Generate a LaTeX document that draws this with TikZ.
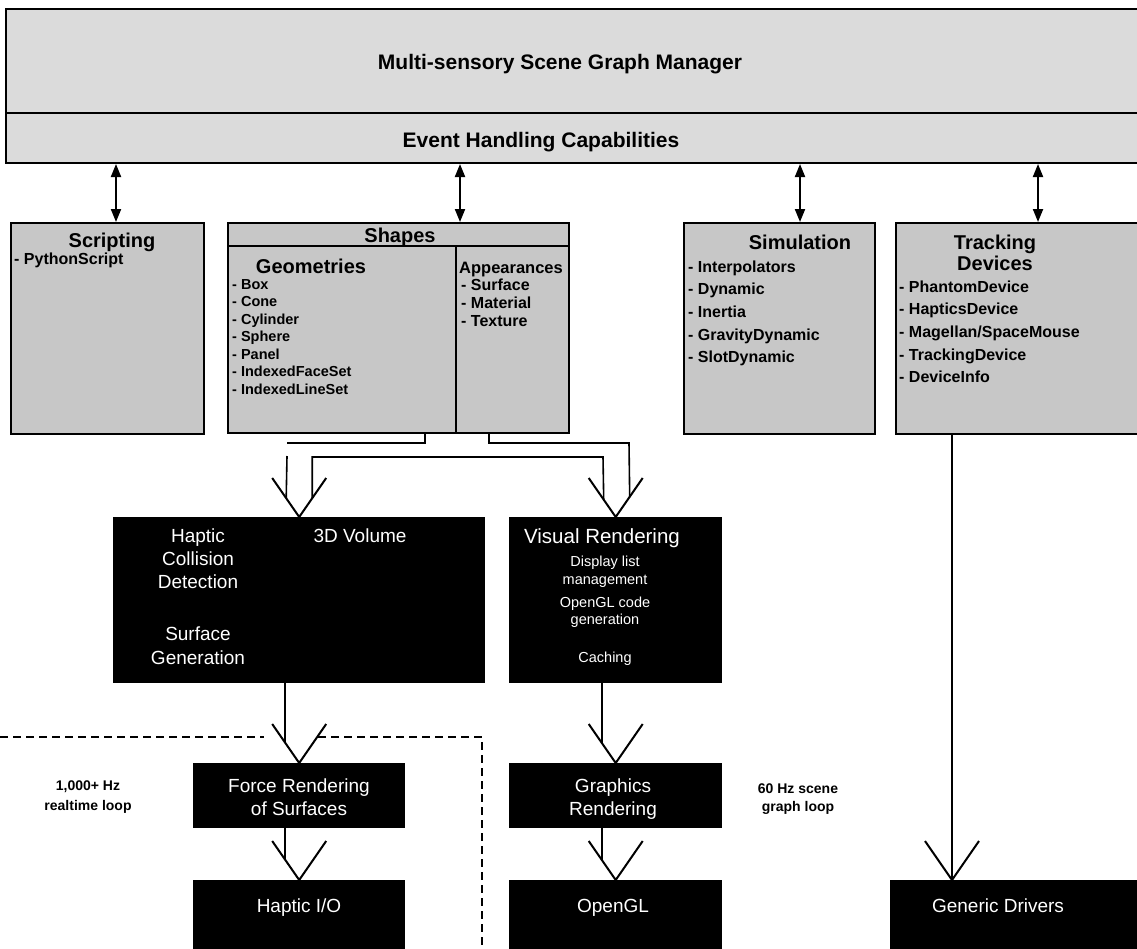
\documentclass[tikz,border=0pt]{standalone}
\usepackage{fontspec}
\setmainfont{Liberation Sans}
\usetikzlibrary{arrows.meta}
\usetikzlibrary{positioning}
\usetikzlibrary{calc}

\tikzset{
  mgrbox/.style={draw, line width=2pt, fill=black!14, inner sep=0pt, anchor=north west},
  graybox/.style={draw, line width=2pt, fill=black!22, inner sep=0pt, anchor=north west},
  blackbox/.style={fill=black, inner sep=0pt, anchor=north west},
  bigbold/.style={font=\fontsize{21}{22}\selectfont\bfseries, inner sep=0pt, anchor=base},
  boxtitle/.style={font=\fontsize{20}{21}\selectfont\bfseries, inner sep=0pt, anchor=base},
  listitem/.style={font=\fontsize{16}{17}\selectfont\bfseries, inner sep=0pt, anchor=base west},
  smallitem/.style={font=\fontsize{14.5}{15}\selectfont\bfseries, inner sep=0pt, anchor=base west},
  whitetext/.style={text=white, font=\fontsize{19}{20}\selectfont, inner sep=0pt, anchor=base},
  whitesmall/.style={text=white, font=\fontsize{14.5}{16}\selectfont, inner sep=0pt, anchor=base},
  sidenote/.style={font=\fontsize{14}{15}\selectfont\bfseries, inner sep=0pt, anchor=base},
  link/.style={line width=2pt, {Triangle[length=13pt,width=10pt]}-{Triangle[length=13pt,width=10pt]}},
  feed/.style={line width=1.6pt},
  loopline/.style={line width=1.4pt, dash pattern=on 8pt off 5pt},
}
% open V head with its tip on the given point
\newcommand{\veehead}[1]{\draw[feed, line width=2pt] ($(#1)+(-27,-39)$) -- (#1) -- ($(#1)+(27,-39)$);}

\begin{document}
\begin{tikzpicture}[x=1pt, y=-1pt]
  \useasboundingbox (0,0) rectangle (1137,948);
  \clip (0,0) rectangle (1137,948);

  % manager bar
  \node[mgrbox, minimum width=1150pt, minimum height=154pt] (manager) at (5,8) {};
  \draw[line width=2pt] (manager.west |- 0,113) -- (manager.east |- 0,113);
  \node[bigbold] (mgrlabel) at (560,69) {Multi-sensory Scene Graph Manager};
  \node[bigbold] (evlabel) at (541,147) {Event Handling Capabilities};

  % node groups
  \node[graybox, minimum width=193pt, minimum height=211pt] (scripting) at (10,222) {};
  \node[graybox, minimum width=341pt, minimum height=210pt] (shapes) at (227,222) {};
  \node[graybox, minimum width=191pt, minimum height=211pt] (simul) at (683,222) {};
  \node[graybox, minimum width=260pt, minimum height=211pt] (tracking) at (895,222) {};
  \draw[line width=2pt] (shapes.west |- 0,246) -- (shapes.east |- 0,246);
  \draw[line width=2pt] (456,246) -- (shapes.south -| 456,0);

  \foreach \b/\x in {scripting/116, shapes/460, simul/800, tracking/1038}
      \draw[link] (manager.south -| \x,0) -- (\b.north -| \x,0);

  \node[boxtitle] (scrtitle) at (112,247) {Scripting};
  \node[listitem] (python) at (14,264) {- PythonScript};

  \node[boxtitle] (shptitle) at (400,242) {Shapes};
  \node[boxtitle] (geotitle) at (311,273) {Geometries};
  \foreach \t [count=\i] in {Box, Cone, Cylinder, Sphere, Panel, IndexedFaceSet, IndexedLineSet}
      \node[smallitem] (geo\i) at (232, {289+17.5*(\i-1)}) {- \t};
  \node[boxtitle, font=\fontsize{16.5}{18}\selectfont\bfseries] (apptitle) at (511,273) {Appearances};
  \foreach \t [count=\i] in {Surface, Material, Texture}
      \node[listitem] (app\i) at (461, {290+18*(\i-1)}) {- \t};

  \node[boxtitle] (simtitle) at (800,249) {Simulation};
  \foreach \t [count=\i] in {Interpolators, Dynamic, Inertia, GravityDynamic, SlotDynamic}
      \node[listitem] (sim\i) at (688, {272+22.7*(\i-1)}) {- \t};

  \node[boxtitle] (trktitle) at (995,249) {Tracking};
  \node[boxtitle] (trktitleb) at (995,270) {Devices};
  \foreach \t [count=\i] in {PhantomDevice, HapticsDevice, Magellan/SpaceMouse, TrackingDevice, DeviceInfo}
      \node[listitem] (trk\i) at (899, {292+22.7*(\i-1)}) {- \t};

  % rendering blocks
  \node[blackbox, minimum width=372pt, minimum height=166pt] (haptic) at (113,517) {};
  \node[blackbox, minimum width=213pt, minimum height=166pt] (visual) at (509,517) {};
  \node[blackbox, minimum width=212pt, minimum height=65pt] (force) at (193,763) {};
  \node[blackbox, minimum width=213pt, minimum height=65pt] (graphics) at (509,763) {};
  \node[blackbox, minimum width=212pt, minimum height=80pt] (hapticio) at (193,880) {};
  \node[blackbox, minimum width=213pt, minimum height=80pt] (opengl) at (509,880) {};
  \node[blackbox, minimum width=260pt, minimum height=80pt] (drivers) at (890,880) {};

  \foreach \t/\y [count=\i] in {Haptic/542, Collision/565, Detection/588, Surface/640, Generation/664}
      \node[whitetext] (hcd\i) at (198,\y) {\t};
  \node[whitetext] (volume) at (360,542) {3D Volume};
  \node[whitetext, font=\fontsize{20.5}{21}\selectfont] (vistitle) at (602,543) {Visual Rendering};
  \foreach \t/\y [count=\i] in {Display list/566, management/584, OpenGL code/607, generation/624, Caching/662}
      \node[whitesmall] (vis\i) at (605,\y) {\t};
  \node[whitetext] (forcea) at (299,792) {Force Rendering};
  \node[whitetext] (forceb) at (299,815) {of Surfaces};
  \node[whitetext] (grapha) at (613,792) {Graphics};
  \node[whitetext] (graphb) at (613,815) {Rendering};
  \node[whitetext] (hiolabel) at (299,912) {Haptic I/O};
  \node[whitetext] (ogllabel) at (613,912) {OpenGL};
  \node[whitetext] (drvlabel) at (998,912) {Generic Drivers};

  % loop rates
  \node[sidenote] (hzhap) at (88,790) {1,000+ Hz};
  \node[sidenote] (hzhapb) at (88,810) {realtime loop};
  \node[sidenote] (hzvis) at (798,793) {60 Hz scene};
  \node[sidenote] (hzvisb) at (798,811) {graph loop};
  \draw[loopline] (0,737) -- (264,737);
  \draw[loopline] (318,737) -- (482,737) -- (482,948);

  % shapes feed both renderers
  \draw[feed] (shapes.south -| 425,0) |- (287,443);
  \draw[feed] (287,456) -- ([xshift=-13pt, yshift=19pt]haptic.north);
  \draw[feed] ([xshift=13pt, yshift=19pt]haptic.north) |- (603,457)
      -- ([xshift=-12pt, yshift=18pt]visual.north);
  \draw[feed] (shapes.south -| 489,0) |- (629,443)
      -- ([xshift=14pt, yshift=20pt]visual.north);
  \veehead{haptic.north}
  \veehead{visual.north}

  % down the pipelines
  \draw[feed] ([xshift=-14pt]haptic.south) -- ([xshift=-14pt, yshift=20pt]force.north);
  \veehead{force.north}
  \draw[feed] ([xshift=-14pt]force.south) -- ([xshift=-14pt, yshift=20pt]hapticio.north);
  \veehead{hapticio.north}
  \draw[feed] ([xshift=-14pt]visual.south) -- ([xshift=-14pt, yshift=20pt]graphics.north);
  \veehead{graphics.north}
  \draw[feed] ([xshift=-14pt]graphics.south) -- ([xshift=-14pt, yshift=20pt]opengl.north);
  \veehead{opengl.north}
  \draw[feed] (tracking.south -| 952,0) -- (drivers.north -| 952,0);
  \veehead{drivers.north -| 952,0}
\end{tikzpicture}
\end{document}
